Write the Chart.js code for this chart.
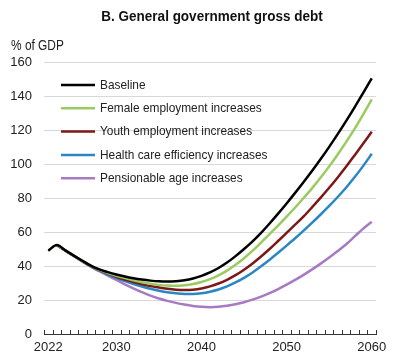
<!DOCTYPE html>
<html>
<head>
<meta charset="utf-8">
<script src="https://cdn.jsdelivr.net/npm/chart.js@4.4.1/dist/chart.umd.min.js"></script>
<style>
    html, body { margin: 0; padding: 0; background: #fff; }
    #wrap { width: 400px; height: 364px; position: relative; }
</style>
</head>
<body>
<div id="wrap"><canvas id="debtChart"></canvas></div>
<script>
// 年份（类别轴）
const years = ['2022', '2023', '2024', '2025', '2026', '2027', '2028', '2029', '2030',
    '2031', '2032', '2033', '2034', '2035', '2036', '2037', '2038', '2039', '2040',
    '2041', '2042', '2043', '2044', '2045', '2046', '2047', '2048', '2049', '2050',
    '2051', '2052', '2053', '2054', '2055', '2056', '2057', '2058', '2059', '2060'];
const shownYears = ['2022', '2030', '2040', '2050', '2060'];
const yTicks = [0, 20, 40, 60, 80, 100, 120, 140, 160];

// 各情景的债务 (% of GDP)
const baseline = [49.0, 52.3, 49.2, 46.1, 43.1, 40.2, 38.0, 36.4, 35.0,
    33.8, 32.8, 32.0, 31.4, 31.0, 30.9, 31.1, 31.6, 32.6, 34.2,
    36.2, 38.8, 42.0, 45.8, 50.0, 54.5, 59.5, 65.0, 70.8, 76.8,
    83.0, 89.4, 96.0, 102.9, 110.1, 117.6, 125.4, 133.5, 141.9, 150.4];
const femaleEmp = [null, 52.3, 49.2, 46.1, 43.1, 40.1, 37.8, 35.9, 34.3,
    32.9, 31.6, 30.5, 29.6, 28.9, 28.5, 28.4, 28.7, 29.4, 30.6,
    32.3, 34.5, 37.3, 40.7, 44.6, 49.0, 53.8, 58.8, 63.8, 69.0,
    74.4, 80.0, 85.8, 92.0, 98.6, 105.6, 113.0, 120.8, 129.2, 138.0];
const youthEmp = [null, 52.3, 49.2, 46.0, 43.0, 40.0, 37.6, 35.5, 33.7,
    32.0, 30.6, 29.3, 28.2, 27.3, 26.6, 26.1, 25.9, 26.1, 26.8,
    28.0, 29.7, 31.9, 34.6, 37.8, 41.5, 45.6, 50.0, 54.7, 59.5,
    64.3, 69.2, 74.6, 80.2, 86.0, 92.1, 98.5, 105.2, 112.0, 119.0];
const healthEff = [null, 52.3, 49.1, 45.9, 42.8, 39.8, 37.3, 35.0, 33.0,
    31.1, 29.4, 27.9, 26.6, 25.5, 24.6, 24.0, 23.6, 23.6, 24.0,
    24.9, 26.2, 28.0, 30.3, 33.0, 36.2, 39.8, 43.7, 47.8, 52.0,
    56.3, 60.8, 65.5, 70.3, 75.3, 80.6, 86.2, 92.3, 98.9, 106.0];
const pensionAge = [null, 52.3, 49.0, 45.8, 42.6, 39.6, 36.9, 34.3, 31.8,
    29.2, 26.8, 24.6, 22.6, 20.9, 19.5, 18.3, 17.3, 16.5, 16.0,
    15.8, 16.0, 16.6, 17.5, 18.7, 20.2, 22.0, 24.0, 26.4, 29.0,
    31.8, 34.8, 38.0, 41.4, 45.0, 48.8, 52.8, 57.4, 62.0, 66.0];

const FONT = "'Liberation Sans', Arial, sans-serif";

// 横向压缩的文字（原图字体较窄）
function narrowText(ctx, text, x, y, sx) {
    ctx.save();
    ctx.translate(x, y);
    ctx.scale(sx, 1);
    ctx.fillText(text, 0, 0);
    ctx.restore();
}

// 标题、单位、图例和向上的刻度线
const extras = {
    id: 'extras',
    afterDraw(chart) {
        const { ctx, chartArea: a, scales: { x } } = chart;
        ctx.save();

        // x 轴刻度线（类别边界，朝上）
        const half = (x.getPixelForValue(1) - x.getPixelForValue(0)) / 2;
        ctx.strokeStyle = '#333';
        ctx.lineWidth = 1;
        ctx.beginPath();
        for (let i = 0; i <= years.length; i++) {
            const px = Math.round(x.getPixelForValue(i) - half) + 0.5;
            ctx.moveTo(px, a.bottom);
            ctx.lineTo(px, a.bottom - 4);
        }
        ctx.stroke();

        // 标题
        ctx.fillStyle = '#111';
        ctx.textBaseline = 'alphabetic';
        ctx.textAlign = 'center';
        ctx.font = 'bold 15px ' + FONT;
        narrowText(ctx, 'B. General government gross debt', 212, 21, 0.9);

        // 单位
        ctx.textAlign = 'left';
        ctx.font = '14px ' + FONT;
        ctx.fillStyle = '#222';
        narrowText(ctx, '% of GDP', 11, 50, 0.85);

        // 图例
        ctx.font = '13.5px ' + FONT;
        ctx.textBaseline = 'middle';
        chart.data.datasets.forEach((ds, i) => {
            const y = a.top + 23 + i * 23.3;
            ctx.strokeStyle = ds.borderColor;
            ctx.lineWidth = 2.5;
            ctx.beginPath();
            ctx.moveTo(a.left + 17, y);
            ctx.lineTo(a.left + 51, y);
            ctx.stroke();
            ctx.fillStyle = '#222';
            narrowText(ctx, ds.label, a.left + 56, y, 0.88);
        });
        ctx.restore();
    }
};

const ctx = document.getElementById('debtChart').getContext('2d');
new Chart(ctx, {
    type: 'line',
    data: {
        labels: years,
        datasets: [
            { label: 'Baseline', data: baseline, borderColor: '#000000' },
            { label: 'Female employment increases', data: femaleEmp, borderColor: '#9BCB5E' },
            { label: 'Youth employment increases', data: youthEmp, borderColor: '#7C1818' },
            { label: 'Health care efficiency increases', data: healthEff, borderColor: '#2A87C4' },
            { label: 'Pensionable age increases', data: pensionAge, borderColor: '#A77BC2' }
        ]
    },
    options: {
        responsive: true,
        maintainAspectRatio: false,
        animation: false,
        layout: { padding: { top: 62, right: 24, left: 0, bottom: 0 } },
        elements: {
            point: { radius: 0 },
            line: { borderWidth: 2.5, cubicInterpolationMode: 'monotone', fill: false }
        },
        plugins: {
            legend: { display: false },
            title: { display: false },
            tooltip: { enabled: false }
        },
        scales: {
            x: {
                type: 'category',
                offset: true,
                grid: { offset: true, drawOnChartArea: false, drawTicks: false },
                border: { color: '#333', width: 1 },
                ticks: {
                    autoSkip: false,
                    maxRotation: 0,
                    padding: 6,
                    color: '#222',
                    font: { family: FONT, size: 13 },
                    callback: (v, i) => shownYears.includes(years[i]) ? years[i] : ''
                },
                afterFit: (s) => { s.height = 30; }
            },
            y: {
                min: 0,
                max: 160,
                afterBuildTicks: (s) => { s.ticks = yTicks.map(v => ({ value: v })); },
                grid: { color: '#d9d9d9', lineWidth: 1, drawTicks: false },
                border: { display: false },
                ticks: {
                    padding: 12,
                    color: '#222',
                    font: { family: FONT, size: 13 }
                },
                afterFit: (s) => { s.width = 44; }
            }
        }
    },
    plugins: [extras]
});
</script>
</body>
</html>
